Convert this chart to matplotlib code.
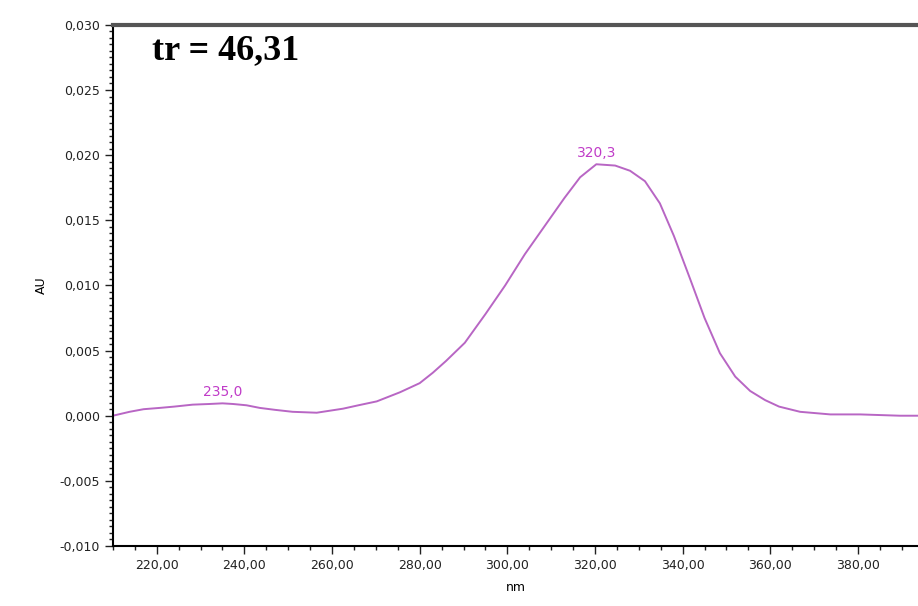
""" UV spectrum of the peak at tr = 46,31. """

import matplotlib
matplotlib.use('Agg')
import matplotlib.pyplot as plt
from matplotlib.ticker import MultipleLocator, FuncFormatter
import numpy as np

# spectrum (nm, AU)
wavelength = [210, 213.8, 217, 220.7, 224, 228.2, 232, 235, 237.4, 240.5, 243.5,
              247, 251, 256.5, 262.5, 266, 270.2, 275.5, 280, 283, 286, 290.3,
              295, 299.5, 304, 308.6, 313, 316.6, 320.3, 324.6, 328, 331.4,
              334.8, 338, 341.7, 345, 348.5, 352, 355.4, 358.8, 362, 366.8,
              373.7, 380.5, 389.6, 394]
absorbance = [0.0000, 0.0003, 0.0005, 0.0006, 0.0007, 0.00085, 0.0009, 0.00095,
              0.0009, 0.0008, 0.0006, 0.00045, 0.0003, 0.00023, 0.00054, 0.0008,
              0.0011, 0.0018, 0.0025, 0.0033, 0.0042, 0.0056, 0.0078, 0.0100,
              0.0124, 0.0146, 0.0167, 0.0183, 0.0193, 0.0192, 0.0188, 0.0180,
              0.0163, 0.0138, 0.0105, 0.0075, 0.0048, 0.0030, 0.0019, 0.0012,
              0.0007, 0.0003, 0.0001, 0.0001, 0.0000, 0.0000]
peak_nm = [235.0, 320.3]
peak_au = [0.00095, 0.0193]
peak_labels = ['235,0', '320,3']
title_text = 'tr = 46,31'

line_color = '#b866c4'
label_color = '#c03cc8'

fig = plt.figure(figsize=(9.18, 6.06), dpi=100)
ax = fig.add_axes([0.123, 0.099, 0.877, 0.860])

ax.plot(wavelength, absorbance, color=line_color, lw=1.4)
for x, y, s in zip(peak_nm, peak_au, peak_labels):
    ax.annotate(s, (x, y), xytext=(0, 3), textcoords='offset points',
                ha='center', va='bottom', color=label_color, fontsize=10)

ax.text(0.048, 0.95, title_text, transform=ax.transAxes, fontsize=26,
        fontweight='bold', family='Liberation Serif', va='center')

ax.set_xlim(210, 393.7)
ax.set_ylim(-0.010, 0.030)
ax.xaxis.set_major_locator(MultipleLocator(20))
ax.xaxis.set_minor_locator(MultipleLocator(5))
ax.yaxis.set_major_locator(MultipleLocator(0.005))
ax.yaxis.set_minor_locator(MultipleLocator(0.0005))
ax.xaxis.set_major_formatter(FuncFormatter(lambda v, p: ('%.2f' % v).replace('.', ',')))
ax.yaxis.set_major_formatter(FuncFormatter(lambda v, p: ('%.3f' % v).replace('.', ',')))
ax.tick_params(which='major', direction='out', length=6, width=1, labelsize=9, colors='#222222')
ax.tick_params(which='minor', direction='out', length=3, width=1, color='#222222')

ax.spines['right'].set_visible(False)
ax.spines['top'].set_color('#555555')
ax.spines['top'].set_linewidth(3)
ax.spines['left'].set_linewidth(1.5)
ax.spines['bottom'].set_linewidth(1.5)

ax.set_ylabel('AU', fontsize=9, labelpad=8)
ax.set_xlabel('nm', fontsize=9, labelpad=6)

fig.savefig('out.png', dpi=100)
